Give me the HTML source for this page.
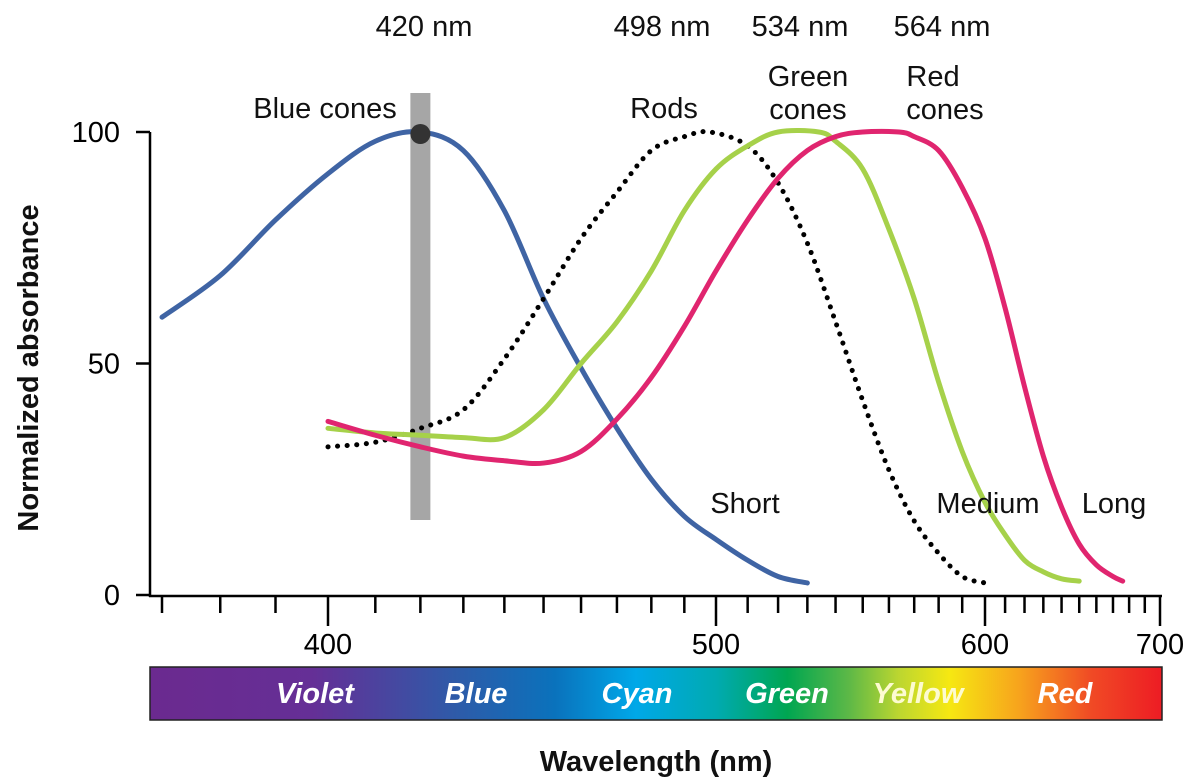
<!DOCTYPE html>
<html><head><meta charset="utf-8"><style>
html,body{margin:0;padding:0;background:#fff;}
svg{display:block;font-family:"Liberation Sans",Arial,sans-serif;}
</style></head><body>
<svg id="chart" width="1200" height="783" viewBox="0 0 1200 783">
<defs>
<linearGradient id="spec" x1="0" x2="1" y1="0" y2="0">
<stop offset="0" stop-color="#6b2a8f"/>
<stop offset="0.16" stop-color="#652f96"/>
<stop offset="0.3" stop-color="#2f5aa8"/>
<stop offset="0.4" stop-color="#0a72bc"/>
<stop offset="0.48" stop-color="#00a8e8"/>
<stop offset="0.56" stop-color="#00aab0"/>
<stop offset="0.63" stop-color="#00a651"/>
<stop offset="0.69" stop-color="#5cb847"/>
<stop offset="0.74" stop-color="#bcd630"/>
<stop offset="0.79" stop-color="#f6e812"/>
<stop offset="0.86" stop-color="#f7a21d"/>
<stop offset="0.93" stop-color="#f04a25"/>
<stop offset="1" stop-color="#ed1c24"/>
</linearGradient>
</defs>
<g id="axes"></g>
<g id="series"></g>
<g id="labels"></g>
</svg>
<script>
const NS="http://www.w3.org/2000/svg";
const xTicks=[370,380,390,400,410,420,430,440,450,460,470,480,490,500,510,520,530,540,550,560,570,580,590,600,610,620,630,640,650,660,670,680,690,700];
const xMajor=[400,500,600,700];
const yTicks=[0,50,100];
const shortWl=[370,380,390,400,410,420,430,440,450,460,470,480,490,500,510,520,530];
const shortVal=[60,69,81,91,98,100,96,83,64,49,36,25,17,12,7.5,4,2.6];
const rodWl=[400,410,420,430,440,450,460,470,480,490,498,510,520,530,540,550,560,570,580,590,600];
const rodVal=[32,33,36,40,51,64,77,87,96,99,100,97,89,76,59,42,27,16,9,4,2.6];
const medWl=[400,410,420,430,440,450,460,470,480,490,500,510,520,534,540,550,560,570,580,590,600,610,620,630,640,650];
const medVal=[36,35,34.5,34,34,40,50,59,70,83,92,97,100,100,98,92,79,64,46,31,20,13,7.5,5,3.5,3];
const longWl=[400,410,420,430,440,450,460,470,480,490,500,510,520,530,540,550,564,570,580,590,600,610,620,630,640,650,660,670,676];
const longVal=[37.5,34.5,32,30,29,28.5,31,38,47,58,70,81,90,96,99,100,100,99,96,88,77,62,45,30,19,11,6.5,4,3];
const peakLabels=["420 nm","498 nm","534 nm","564 nm"];
const peakWl=[420,498,534,564];

// x scale: piecewise linear in 1/wavelength
const anchorWl=[370,400,500,600,700];
const anchorPx=[162,328,716,985,1160];
function X(w){const u=1/w;let i=0;while(i<anchorWl.length-2&&w>anchorWl[i+1])i++;
 const u0=1/anchorWl[i],u1=1/anchorWl[i+1];return anchorPx[i]+(u0-u)/(u0-u1)*(anchorPx[i+1]-anchorPx[i]);}
const Y=v=>595-v*4.63;
function el(t,a,p){const e=document.createElementNS(NS,t);for(const k in a)e.setAttribute(k,a[k]);(p||document.getElementById('chart')).appendChild(e);return e;}
const axes=document.getElementById('axes'),ser=document.getElementById('series'),lab=document.getElementById('labels');

let gb=el('rect',{x:X(420)-10,y:93,width:20,height:427,fill:'#a6a6a6'},ser);


let ya=el('line',{x1:150,y1:132,x2:150,y2:597,stroke:'#000','stroke-width':2.5},axes);

let xa=el('line',{x1:149,y1:596,x2:1162,y2:596,stroke:'#000','stroke-width':2.5},axes);

yTicks.forEach(v=>{
 let t=el('line',{x1:136,x2:150,y1:Y(v),y2:Y(v),stroke:'#000','stroke-width':2.5},axes);
 
 let tx=el('text',{x:120,y:Y(v)+10,'text-anchor':'end','font-size':29},axes);tx.textContent=v;
 
});
xTicks.forEach(w=>{
 const maj=xMajor.includes(w);
 let t=el('line',{x1:X(w),x2:X(w),y1:596,y2:maj?626:613,stroke:'#000','stroke-width':2.5},axes);
 
 if(maj){let tx=el('text',{x:X(w),y:654,'text-anchor':'middle','font-size':29},axes);tx.textContent=w;
 }
});

function smooth(pts){let d=`M${pts[0][0]},${pts[0][1]}`;
 for(let i=0;i<pts.length-1;i++){const p0=pts[i-1]||pts[i],p1=pts[i],p2=pts[i+1],p3=pts[i+2]||p2;
 d+=` C${p1[0]+(p2[0]-p0[0])/6},${p1[1]+(p2[1]-p0[1])/6} ${p2[0]-(p3[0]-p1[0])/6},${p2[1]-(p3[1]-p1[1])/6} ${p2[0]},${p2[1]}`;}
 return d;}
function curve(wl,val,attrs,name){const p=el('path',Object.assign({d:smooth(wl.map((w,i)=>[X(w),Y(val[i])])),fill:'none','stroke-linecap':'round'},attrs),ser);
 }
curve(shortWl,shortVal,{stroke:'#3f64a4','stroke-width':5},'short-cone-curve');
curve(rodWl,rodVal,{stroke:'#000','stroke-width':5,'stroke-dasharray':'0.1 9.5'},'rod-curve');
curve(medWl,medVal,{stroke:'#a6d14a','stroke-width':5},'medium-cone-curve');
curve(longWl,longVal,{stroke:'#e0256f','stroke-width':5},'long-cone-curve');
let dot=el('circle',{cx:X(420),cy:Y(100)+2,r:10,fill:'#333'},ser);


function txt(s,x,y,a,name,extra){const t=el('text',Object.assign({x:x,y:y,'text-anchor':a||'middle','font-size':29,fill:'#111'},extra||{}),lab);t.textContent=s;
 return t;}
peakLabels.forEach((s,i)=>txt(s,[424,662,800,942][i],36,'middle','peak-wavelength-label'));
txt('Blue cones',325,118,'middle','blue-cones-label');
txt('Rods',664,118,'middle','rods-label');
txt('Green',808,86,'middle','green-cones-label');txt('cones',808,119,'middle','green-cones-label');
txt('Red',933,86,'middle','red-cones-label');txt('cones',945,119,'middle','red-cones-label');
txt('Short',745,513,'middle','short-label');
txt('Medium',988,513,'middle','medium-label');
txt('Long',1114,513,'middle','long-label');
txt('Normalized absorbance',0,0,'middle','y-axis-title',{'font-weight':'bold',transform:'translate(38,368) rotate(-90)'});
txt('Wavelength (nm)',656,771,'middle','x-axis-title',{'font-weight':'bold'});

let sp=el('rect',{x:150,y:667,width:1012,height:53,fill:'url(#spec)',stroke:'#222','stroke-width':1.5},lab);

[['Violet',315],['Blue',476],['Cyan',637],['Green',787],['Yellow',918],['Red',1065]].forEach(([s,x])=>
 txt(s,x,703,'middle','spectrum-color-label',{'font-weight':'bold','font-style':'italic',fill:s==='Yellow'?'#fdfbd0':'#fff'}));
</script>
</body></html>
